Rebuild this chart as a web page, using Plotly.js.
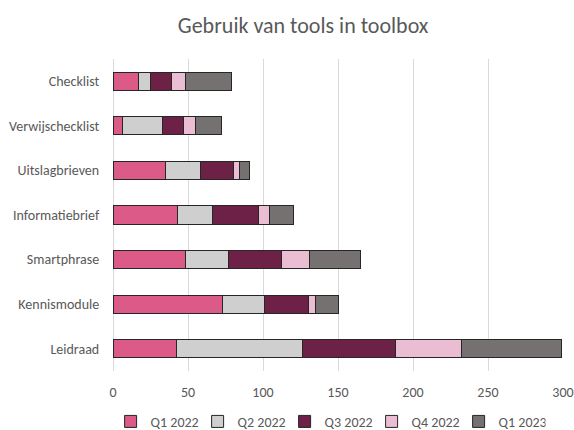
<!DOCTYPE html>
<html>
<head>
<meta charset="utf-8">
<script src="https://cdn.plot.ly/plotly-3.0.1.min.js"></script>
<style>html,body{margin:0;padding:0;background:#fff;}#chart{width:574px;height:430px;}</style>
</head>
<body>
<div id="chart"></div>
<script>
var categories = ["Checklist", "Verwijschecklist", "Uitslagbrieven", "Informatiebrief", "Smartphrase", "Kennismodule", "Leidraad"];
var seriesNames = ["Q1 2022", "Q2 2022", "Q3 2022", "Q4 2022", "Q1 2023"];
var q1_2022 = [17, 6, 35, 43, 48, 73, 42];
var q2_2022 = [8, 27, 23, 23, 29, 28, 84];
var q3_2022 = [14, 14, 22, 31, 35, 29, 62];
var q4_2022 = [9, 8, 4, 7, 19, 5, 44];
var q1_2023 = [31, 17, 7, 16, 34, 15, 67];
var xTicks = [0, 50, 100, 150, 200, 250, 300];
var colors = ["#DB5A87", "#D0CFCF", "#6E2146", "#EABDD3", "#757171"];

var allValues = [q1_2022, q2_2022, q3_2022, q4_2022, q1_2023];
var traces = allValues.map(function (vals, i) {
  return {
    type: "bar",
    orientation: "h",
    name: seriesNames[i],
    y: categories,
    x: vals,
    marker: {color: colors[i], line: {color: "#262626", width: 1}},
    hoverinfo: "x+y+name"
  };
});

var font = "Calibri, Carlito, 'Open Sans', sans-serif";
var layout = {
  width: 574, height: 430,
  barmode: "stack",
  bargap: 0.59,
  paper_bgcolor: "#ffffff",
  plot_bgcolor: "#ffffff",
  margin: {l: 113, r: 11, t: 59, b: 59, autoexpand: false},
  font: {family: font, color: "#595959", size: 14},
  title: {text: "Gebruik van tools in toolbox", x: 0.528, xanchor: "center", y: 0.942, yanchor: "middle",
          font: {family: font, size: 22, color: "#595959"}},
  xaxis: {range: [0, 300], tickvals: xTicks, showgrid: true, gridcolor: "#D9D9D9", gridwidth: 1,
          zeroline: true, zerolinecolor: "#D9D9D9", showline: false,
          ticks: "outside", ticklen: 8, tickcolor: "rgba(0,0,0,0)",
          tickfont: {size: 14, color: "#595959"}},
  yaxis: {autorange: "reversed", showgrid: false, ticks: "outside", ticklen: 10, tickcolor: "rgba(0,0,0,0)",
          tickfont: {size: 14, color: "#595959"}, automargin: false},
  legend: {orientation: "h", x: 0.478, xanchor: "center", yref: "container", y: 0.019, yanchor: "middle",
           font: {size: 14, color: "#595959"}, traceorder: "normal", itemwidth: 30,
           entrywidth: 42, entrywidthmode: "pixels"},
  showlegend: true
};

Plotly.newPlot("chart", traces, layout, {displayModeBar: false, staticPlot: true});
</script>
</body>
</html>
